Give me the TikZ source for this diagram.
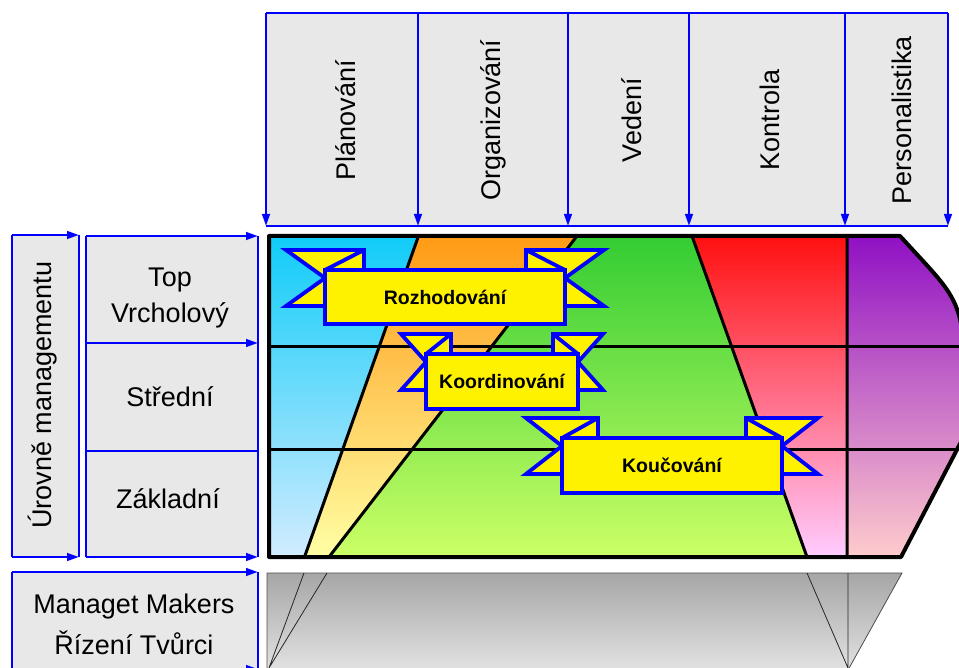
\documentclass[tikz,border=0pt]{standalone}
\usepackage{fontspec}
\setmainfont{Liberation Sans}
\usetikzlibrary{arrows.meta}
\definecolor{boxgray}{HTML}{E8E8E8}
\definecolor{cyantop}{HTML}{10CCF8}
\definecolor{cyanbot}{HTML}{D2ECFF}
\definecolor{orangetop}{HTML}{FF9A14}
\definecolor{orangebot}{HTML}{FFFFA4}
\definecolor{greentop}{HTML}{33CC33}
\definecolor{greenbot}{HTML}{CCFF66}
\definecolor{redtop}{HTML}{FF1010}
\definecolor{redbot}{HTML}{FFCCFF}
\definecolor{purpletop}{HTML}{9010C4}
\definecolor{purplebot}{HTML}{FFCCCC}
\definecolor{basetop}{HTML}{A6A6A6}
\definecolor{basebot}{HTML}{E2E2E2}

\begin{document}
\begin{tikzpicture}[x=0.5pt,y=-0.5pt,
  bl/.style={blue,line width=1.2pt},
  blarr/.style={bl,-{Triangle[length=6pt,width=3.8pt]}},
  colhead/.style={rotate=90,font=\fontsize{13.5}{16}\selectfont},
  lvl/.style={align=center,font=\fontsize{13.5}{18}\selectfont},
  gridline/.style={black,line width=1.5pt},
  ribbon/.style={draw=blue,fill=yellow,line width=1.9pt,line join=miter},
  ribbontext/.style={font=\bfseries\fontsize{9.75}{12}\selectfont}]
\useasboundingbox (0,0) rectangle (959,668);

% functions header
\fill[boxgray] (266,13) rectangle (948,226);
\draw[bl] (266,13) -- (948,13) (266,226) -- (948,226);
\foreach \x in {266,418,568,689,845,948}
  \draw[blarr] (\x,13) -- (\x,226);
\node[colhead] (plan) at (346,120) {Plánování};
\node[colhead] (org) at (493,120) {Organizování};
\node[colhead] (ved) at (632,120) {Vedení};
\node[colhead] (kontr) at (770,120) {Kontrola};
\node[colhead] (pers) at (902,120) {Personalistika};

% management levels
\fill[boxgray] (12,235) rectangle (79,557);
\draw[bl] (12,235) -- (12,557) (79,235) -- (79,557);
\draw[blarr] (12,235) -- (79,235);
\draw[blarr] (12,557) -- (79,557);
\node[colhead] (uroven) at (43,395) {Úrovně managementu};

\fill[boxgray] (86,236) rectangle (258,557);
\draw[bl] (86,236) -- (86,557) (258,236) -- (258,557) (86,451) -- (258,451);
\foreach \y in {236,343,557}
  \draw[blarr] (86,\y) -- (258,\y);
\node[lvl] (top) at (170,298) {Top\\Vrcholový};
\node[lvl] (stred) at (170,397) {Střední};
\node[lvl] (zakl) at (168,499) {Základní};

\fill[boxgray] (12,572) rectangle (258,669);
\draw[bl] (12,572) -- (12,669) (258,572) -- (258,669);
\draw[blarr] (12,572) -- (258,572);
\draw[blarr] (12,669) -- (258,669);
\node[lvl,font=\fontsize{13.5}{20.5}\selectfont] (makers) at (134,624) {Managet Makers\\Řízení Tvůrci};

% coloured grid
\begin{scope}
\clip (269,236) -- (900,236) -- (923,261) .. controls (945,285) and (958,300) .. (962,330)
  -- (962,440) -- (901,557) -- (269,557) -- cycle;
\shade[top color=cyantop,bottom color=cyanbot] (269,236) -- (418.5,236) -- (304.5,557) -- (269,557) -- cycle;
\shade[top color=orangetop,bottom color=orangebot] (418.5,236) -- (577,236) -- (329,557) -- (304.5,557) -- cycle;
\shade[top color=greentop,bottom color=greenbot] (577,236) -- (692,236) -- (807,557) -- (329,557) -- cycle;
\shade[top color=redtop,bottom color=redbot] (692,236) -- (847,236) -- (847,557) -- (807,557) -- cycle;
\shade[top color=purpletop,bottom color=purplebot] (847,236) -- (970,236) -- (970,557) -- (847,557) -- cycle;
\draw[gridline] (269,347) -- (970,347) (269,449) -- (970,449);
\draw[gridline] (418.5,236) -- (304.5,557) (577,236) -- (329,557)
  (692,236) -- (807,557) (847,236) -- (847,557);
\end{scope}
\draw[black,line width=2pt,line join=round] (269,236) -- (900,236) -- (923,261) .. controls (945,285) and (958,300) .. (962,330)
  -- (962,440) -- (901,557) -- (269,557) -- cycle;

% base
\shade[top color=basetop,bottom color=basebot,draw=gray!60!black,line width=0.4pt]
  (267,573) -- (902,573) -- (848,670) -- (267,670) -- cycle;
\draw[gray!30!black,line width=0.4pt] (304,573) -- (269,668) (327,573) -- (269,668)
  (807,573) -- (848,668) (848,573) -- (848,668);

% ribbons
\foreach \l/\t/\r/\b/\w/\nm/\txt in {325/270/565/324/39/rozh/Rozhodování,
    426/354/578/409/25/koord/Koordinování, 562/438/782/493/36/kouc/Koučování}{
  \draw[ribbon] (\l-\w,\t-20) -- (\l+\w,\t-20) -- (\l+\w,\t+36) -- (\l-\w,\t+36) -- (\l,\t+8) -- cycle;
  \draw[ribbon] (\r+\w,\t-20) -- (\r-\w,\t-20) -- (\r-\w,\t+36) -- (\r+\w,\t+36) -- (\r,\t+8) -- cycle;
  \draw[ribbon] (\l,\t) rectangle (\r,\b);
  \draw[blue,line width=1.9pt] (\l,\t) -- (\l+\w,\t-20) (\r,\t) -- (\r-\w,\t-20);
  \node[ribbontext] (\nm) at ({(\l+\r)/2},{(\t+\b)/2}) {\txt};
}
\end{tikzpicture}
\end{document}
